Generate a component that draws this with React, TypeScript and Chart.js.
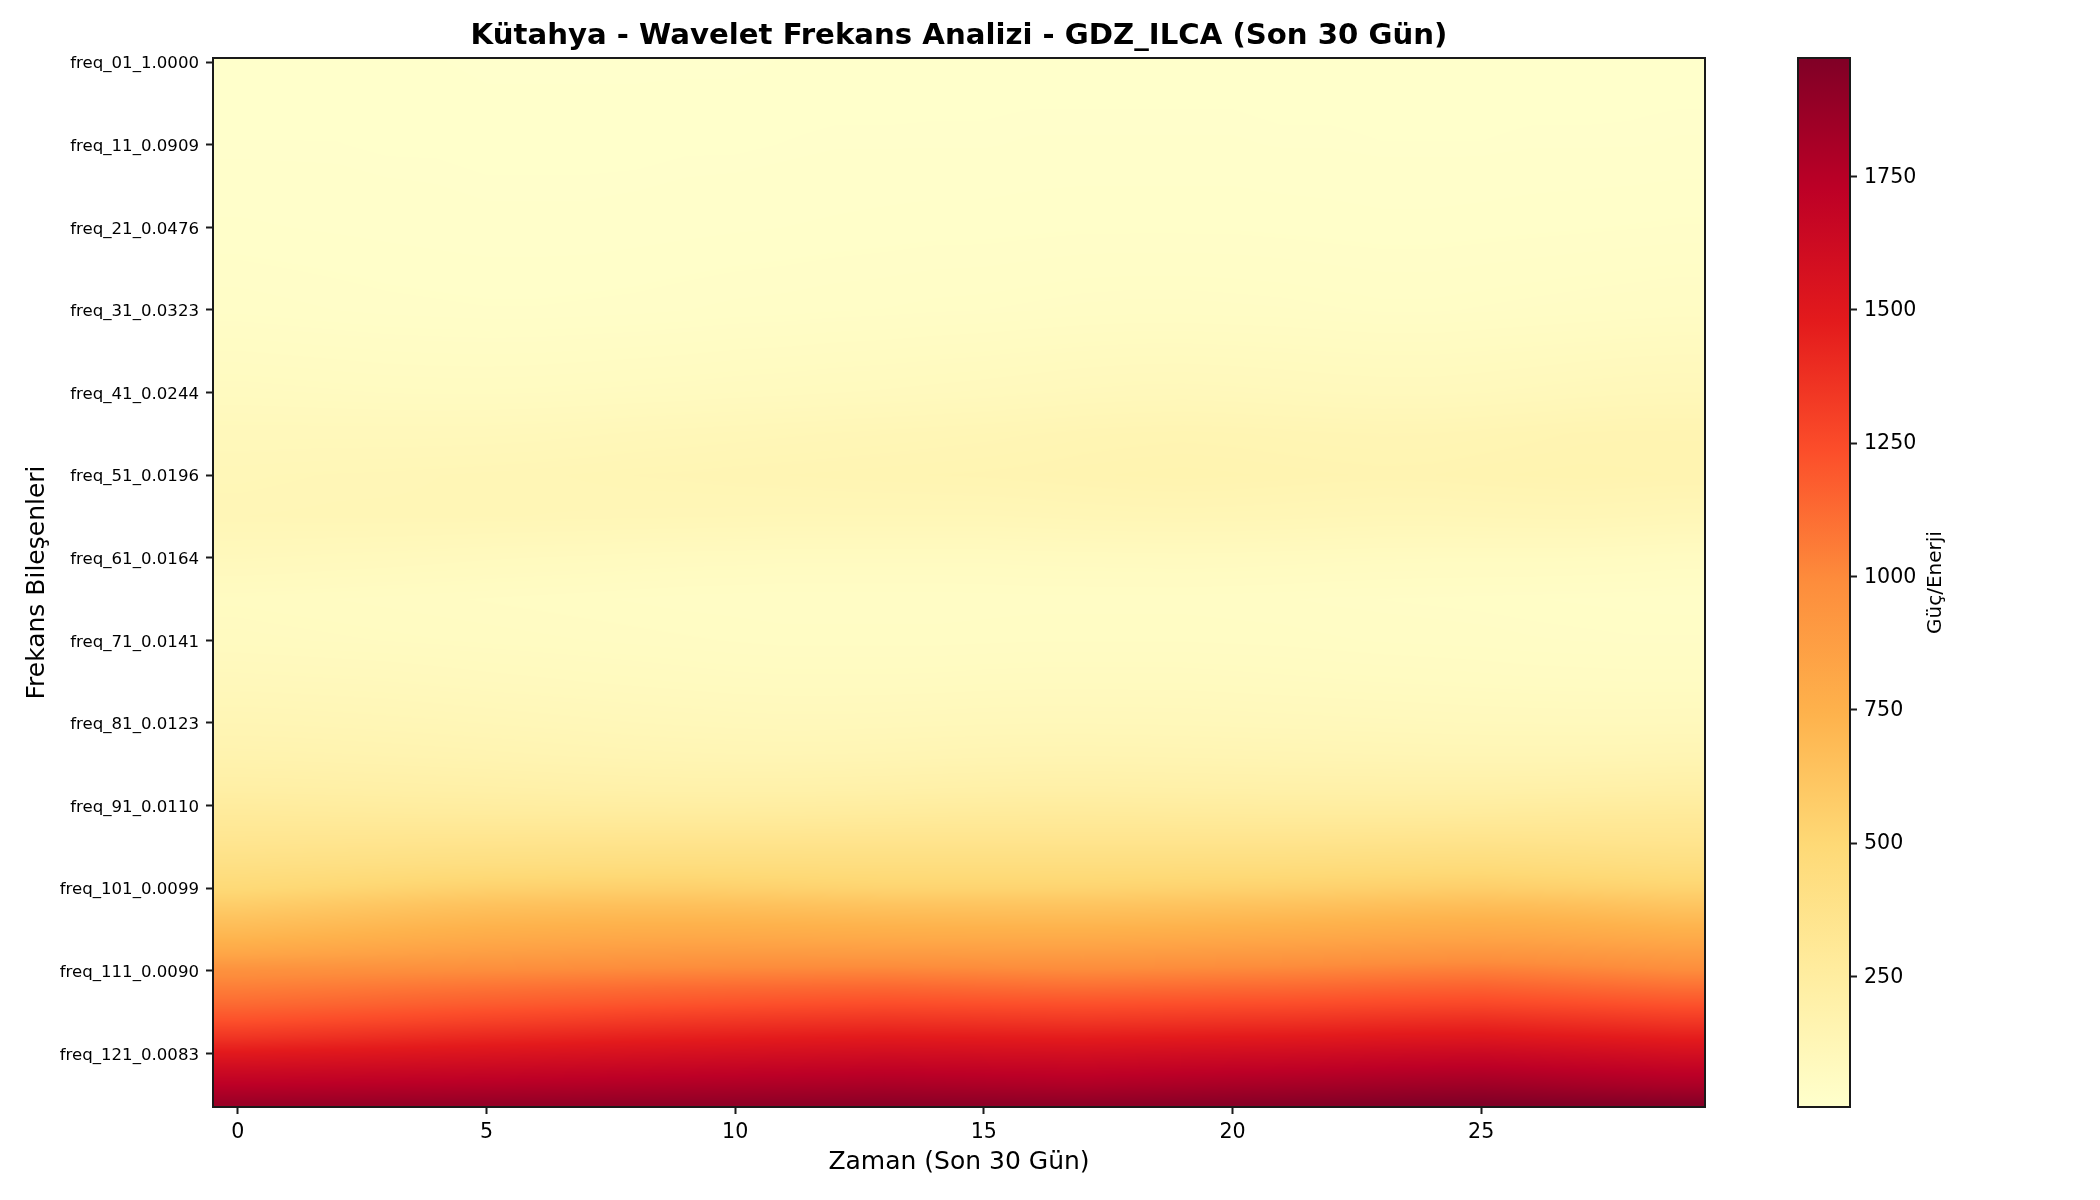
import { useEffect, useRef } from "react";
import { Chart, registerables } from "chart.js";

Chart.register(...registerables);

const FONT = "'DejaVu Sans'";
const INK = "#1a1a1a";

const chartTitle = "Kütahya - Wavelet Frekans Analizi - GDZ_ILCA (Son 30 Gün)";
const xTitle = "Zaman (Son 30 Gün)";
const yTitle = "Frekans Bileşenleri";
const barTitle = "Güç/Enerji";

const dayCount = 30;
const rowCount = 127;
const xTicks = [0, 5, 10, 15, 20, 25];
const yTicks = [0, 10, 20, 30, 40, 50, 60, 70, 80, 90, 100, 110, 120];
const yTickLabels = [
  "freq_01_1.0000", "freq_11_0.0909", "freq_21_0.0476", "freq_31_0.0323", "freq_41_0.0244",
  "freq_51_0.0196", "freq_61_0.0164", "freq_71_0.0141", "freq_81_0.0123", "freq_91_0.0110",
  "freq_101_0.0099", "freq_111_0.0090", "freq_121_0.0083",
];
const barTicks = [250, 500, 750, 1000, 1250, 1500, 1750];
const powerMin = 5;
const powerMax = 1972;

// YlOrRd
const colormap = ["#ffffcc", "#ffeda0", "#fed976", "#feb24c", "#fd8d3c", "#fc4e2a", "#e31a1c", "#bd0026", "#800026"];

// rows, one list of 30 days per row index in sampledRows
const sampledRows = [0, 10, 20, 30, 40, 45, 50, 55, 60, 65, 70, 75, 80, 84, 88, 91, 94, 97, 100, 102, 104, 106, 108, 110, 112, 114, 116, 118, 120, 122, 124, 126];
const power = [
  [9, 9, 8, 8, 8, 7, 7, 7, 7, 7, 7, 8, 8, 8, 9, 9, 9, 9, 9, 9, 9, 8, 8, 8, 8, 8, 8, 8, 9, 9],
  [12, 12, 12, 11, 11, 10, 10, 10, 10, 11, 11, 12, 13, 13, 13, 13, 14, 14, 14, 14, 14, 13, 13, 12, 12, 12, 13, 13, 13, 14],
  [20, 19, 18, 17, 16, 15, 15, 15, 16, 17, 18, 19, 20, 21, 22, 22, 23, 24, 24, 24, 24, 23, 22, 21, 21, 22, 23, 24, 25, 26],
  [34, 32, 30, 28, 27, 26, 26, 27, 28, 30, 32, 33, 35, 36, 38, 39, 41, 43, 44, 44, 43, 42, 40, 38, 38, 40, 42, 44, 46, 48],
  [72, 70, 68, 66, 65, 65, 66, 68, 70, 72, 75, 77, 80, 82, 85, 88, 92, 96, 99, 100, 98, 95, 92, 90, 90, 93, 97, 102, 106, 108],
  [100, 100, 100, 100, 100, 101, 103, 106, 110, 113, 116, 119, 122, 125, 128, 131, 135, 140, 143, 145, 143, 140, 137, 135, 136, 140, 145, 150, 152, 152],
  [118, 120, 122, 123, 125, 127, 129, 132, 135, 137, 140, 142, 144, 146, 148, 150, 153, 157, 160, 162, 160, 157, 154, 152, 153, 157, 160, 162, 160, 158],
  [125, 126, 127, 127, 127, 126, 125, 124, 123, 122, 121, 120, 120, 120, 120, 120, 122, 125, 127, 128, 127, 125, 122, 120, 120, 122, 124, 125, 122, 118],
  [95, 93, 90, 88, 85, 82, 80, 78, 75, 73, 72, 70, 70, 70, 70, 70, 72, 73, 74, 75, 74, 72, 70, 68, 67, 67, 67, 66, 64, 60],
  [62, 60, 58, 56, 54, 52, 50, 48, 46, 44, 43, 42, 42, 42, 42, 43, 44, 44, 44, 44, 43, 42, 40, 39, 38, 37, 36, 35, 34, 33],
  [72, 70, 68, 66, 64, 62, 60, 58, 56, 54, 52, 50, 50, 50, 50, 51, 52, 52, 52, 52, 51, 50, 48, 46, 45, 44, 42, 41, 40, 40],
  [100, 98, 96, 94, 90, 86, 83, 80, 77, 74, 71, 70, 70, 70, 71, 73, 74, 74, 74, 74, 72, 70, 68, 66, 64, 62, 60, 59, 58, 58],
  [135, 133, 130, 127, 124, 120, 116, 112, 108, 105, 102, 100, 100, 102, 104, 106, 107, 107, 106, 105, 103, 101, 99, 97, 95, 93, 92, 91, 91, 92],
  [170, 168, 165, 162, 158, 154, 150, 146, 142, 139, 137, 136, 137, 139, 142, 145, 147, 148, 147, 145, 143, 141, 139, 137, 135, 134, 134, 135, 137, 140],
  [222, 220, 217, 214, 211, 208, 204, 200, 197, 195, 194, 195, 197, 200, 204, 207, 209, 209, 207, 205, 203, 201, 200, 199, 199, 200, 202, 205, 208, 212],
  [280, 277, 274, 271, 268, 266, 264, 262, 261, 260, 260, 262, 265, 268, 272, 275, 277, 277, 275, 272, 270, 268, 266, 266, 267, 270, 274, 278, 280, 282],
  [335, 338, 340, 342, 344, 346, 347, 348, 349, 350, 350, 350, 351, 352, 352, 352, 351, 350, 350, 350, 350, 350, 352, 355, 358, 360, 356, 352, 348, 345],
  [405, 410, 415, 420, 426, 430, 433, 436, 438, 440, 439, 438, 436, 435, 435, 435, 435, 435, 436, 437, 438, 440, 444, 448, 452, 455, 448, 441, 433, 425],
  [490, 500, 512, 524, 536, 545, 549, 552, 554, 555, 549, 543, 536, 530, 529, 529, 529, 530, 534, 538, 542, 545, 550, 556, 561, 565, 557, 548, 539, 530],
  [570, 585, 600, 615, 630, 640, 645, 648, 650, 650, 647, 642, 636, 630, 628, 626, 625, 625, 628, 632, 636, 640, 646, 654, 661, 665, 660, 648, 634, 620],
  [650, 663, 676, 690, 704, 715, 721, 726, 729, 730, 728, 724, 719, 715, 711, 708, 706, 705, 708, 713, 719, 725, 732, 740, 746, 750, 745, 733, 719, 705],
  [725, 738, 751, 764, 778, 790, 797, 803, 808, 810, 808, 804, 799, 795, 793, 791, 790, 790, 794, 799, 805, 810, 817, 825, 831, 835, 829, 816, 803, 790],
  [825, 836, 847, 858, 870, 880, 887, 894, 901, 905, 905, 904, 902, 900, 897, 894, 891, 890, 894, 900, 905, 910, 918, 927, 935, 940, 932, 918, 904, 890],
  [965, 970, 975, 980, 985, 990, 995, 1001, 1006, 1010, 1013, 1016, 1018, 1020, 1015, 1010, 1004, 1000, 1004, 1010, 1015, 1020, 1028, 1037, 1045, 1050, 1040, 1025, 1010, 995],
  [1045, 1053, 1062, 1072, 1082, 1090, 1098, 1106, 1114, 1120, 1124, 1128, 1132, 1135, 1129, 1122, 1115, 1110, 1115, 1121, 1126, 1130, 1138, 1148, 1155, 1160, 1147, 1132, 1118, 1105],
  [1125, 1135, 1146, 1158, 1170, 1180, 1189, 1198, 1208, 1215, 1222, 1229, 1235, 1240, 1236, 1232, 1228, 1225, 1229, 1233, 1237, 1240, 1247, 1255, 1261, 1265, 1253, 1240, 1227, 1215],
  [1225, 1237, 1250, 1263, 1277, 1290, 1301, 1313, 1325, 1335, 1342, 1349, 1355, 1360, 1355, 1350, 1345, 1340, 1345, 1351, 1356, 1360, 1368, 1378, 1385, 1390, 1377, 1363, 1349, 1335],
  [1350, 1362, 1375, 1389, 1403, 1415, 1425, 1436, 1447, 1455, 1462, 1469, 1475, 1480, 1476, 1472, 1468, 1465, 1470, 1476, 1481, 1485, 1492, 1501, 1506, 1510, 1498, 1486, 1473, 1460],
  [1495, 1504, 1513, 1522, 1532, 1540, 1549, 1558, 1567, 1575, 1581, 1588, 1594, 1600, 1596, 1592, 1588, 1585, 1592, 1599, 1605, 1610, 1618, 1628, 1635, 1640, 1627, 1613, 1599, 1585],
  [1625, 1630, 1636, 1642, 1649, 1655, 1662, 1670, 1678, 1685, 1692, 1698, 1704, 1710, 1705, 1700, 1695, 1690, 1698, 1706, 1714, 1720, 1728, 1738, 1745, 1750, 1738, 1725, 1712, 1700],
  [1740, 1745, 1750, 1755, 1760, 1765, 1771, 1777, 1784, 1790, 1795, 1800, 1805, 1810, 1805, 1800, 1795, 1790, 1799, 1808, 1817, 1825, 1833, 1843, 1850, 1855, 1843, 1830, 1817, 1805],
  [1860, 1864, 1868, 1872, 1876, 1880, 1884, 1888, 1892, 1895, 1900, 1905, 1910, 1915, 1912, 1910, 1907, 1905, 1912, 1920, 1928, 1935, 1943, 1952, 1960, 1965, 1958, 1952, 1946, 1940],
];

const colormapRgb = colormap.map(c => [1, 3, 5].map(i => parseInt(c.slice(i, i + 2), 16)));

function powerColor(v: number) {
  const t = Math.min(1, Math.max(0, (v - powerMin) / (powerMax - powerMin))) * (colormapRgb.length - 1);
  const i = Math.min(colormapRgb.length - 2, Math.floor(t));
  const f = t - i;
  return colormapRgb[i].map((c, k) => c + (colormapRgb[i + 1][k] - c) * f);
}

// like imshow with bilinear interpolation, the cell values are smoothed when painted
function samplePower(day: number, row: number) {
  const d = Math.min(dayCount - 1, Math.max(0, day));
  const r = Math.min(sampledRows[sampledRows.length - 1], Math.max(0, row));
  let hi = 1;
  while (hi < sampledRows.length - 1 && sampledRows[hi] < r) hi++;
  const lo = hi - 1;
  const fr = (r - sampledRows[lo]) / (sampledRows[hi] - sampledRows[lo]);
  const d0 = Math.min(dayCount - 2, Math.floor(d));
  const fd = d - d0;
  const a = power[lo][d0] + (power[lo][d0 + 1] - power[lo][d0]) * fd;
  const b = power[hi][d0] + (power[hi][d0 + 1] - power[hi][d0]) * fd;
  return a + (b - a) * fr;
}

const heatmapPlugin = {
  id: "heatmap",
  // title goes over the axes, not over the canvas
  afterLayout(chart: any) {
    chart.titleBlock.left = chart.chartArea.left;
    chart.titleBlock.right = chart.chartArea.right;
  },
  beforeDraw(chart: any) {
    // matplotlib sits these labels a little lower than textBaseline middle
    chart.scales.y.getLabelItems().forEach((item: any) => { item.options.translation[1] += 2; });
  },
  beforeDatasetsDraw(chart: any) {
    const { ctx, chartArea, scales } = chart;
    const w = Math.round(chartArea.width);
    const h = Math.round(chartArea.height);
    const img = ctx.createImageData(w, h);
    for (let py = 0; py < h; py++) {
      const row = scales.y.getValueForPixel(chartArea.top + py + 0.5);
      for (let px = 0; px < w; px++) {
        const day = scales.x.getValueForPixel(chartArea.left + px + 0.5);
        const rgb = powerColor(samplePower(day, row));
        const o = (py * w + px) * 4;
        img.data[o] = rgb[0];
        img.data[o + 1] = rgb[1];
        img.data[o + 2] = rgb[2];
        img.data[o + 3] = 255;
      }
    }
    ctx.putImageData(img, Math.round(chartArea.left), Math.round(chartArea.top));
  },
};

const framePlugin = {
  id: "frame",
  afterDraw(chart: any) {
    const { ctx, chartArea: a } = chart;
    ctx.save();
    ctx.strokeStyle = INK;
    ctx.lineWidth = 2;
    ctx.strokeRect(a.left, a.top, a.width, a.height);
    ctx.restore();
  },
};

// colorbar label reads bottom to top, Chart.js would turn it the other way on a right axis
const barLabelPlugin = {
  id: "barLabel",
  beforeDraw(chart: any) {
    chart.scales.y.getLabelItems().forEach((item: any) => { item.options.translation[1] += 1; });
  },
  afterDraw(chart: any) {
    const { ctx, chartArea: a } = chart;
    ctx.save();
    ctx.translate(146, (a.top + a.bottom) / 2);
    ctx.rotate(-Math.PI / 2);
    ctx.font = `20px ${FONT}`;
    ctx.fillStyle = "#000";
    ctx.textAlign = "center";
    ctx.textBaseline = "middle";
    ctx.fillText(barTitle, 0, 0);
    ctx.restore();
  },
};

const axisGrid = { drawOnChartArea: false, drawTicks: true, tickLength: 7, tickWidth: 2, tickColor: INK };

export default function App() {
  const mainRef = useRef<HTMLCanvasElement>(null);
  const barRef = useRef<HTMLCanvasElement>(null);

  useEffect(() => {
    if (!mainRef.current || !barRef.current) return;

    const main = new Chart(mainRef.current, {
      type: "scatter",
      data: {
        datasets: [{
          label: "Güç/Enerji",
          data: sampledRows.flatMap((r, i) => power[i].map((v, d) => ({ x: d, y: r, v }))),
          pointRadius: 0,
        }],
      },
      options: {
        responsive: false,
        animation: false,
        devicePixelRatio: 1,
        layout: { padding: { right: 213 } },
        plugins: {
          legend: { display: false },
          tooltip: { enabled: false },
          title: {
            display: true,
            text: chartTitle,
            color: "#000",
            font: { family: FONT, size: 29.2, weight: "bold" },
            padding: { top: 18.5, bottom: 4.46 },
          },
        },
        scales: {
          x: {
            type: "linear",
            min: -0.5,
            max: dayCount - 0.5,
            grid: axisGrid,
            border: { color: INK, width: 2 },
            afterBuildTicks: (s: any) => { s.ticks = xTicks.map(value => ({ value })); },
            afterFit: (s: any) => { s.height = 93; },
            ticks: { color: "#000", font: { family: FONT, size: 20.6 }, padding: 6, autoSkip: false, maxRotation: 0 },
            title: { display: true, text: xTitle, color: "#000", font: { family: FONT, size: 25 }, padding: { top: 0, bottom: 23 } },
          },
          y: {
            type: "linear",
            reverse: true,
            min: -0.5,
            max: rowCount - 0.5,
            grid: axisGrid,
            border: { color: INK, width: 2 },
            afterBuildTicks: (s: any) => { s.ticks = yTicks.map(value => ({ value })); },
            afterFit: (s: any) => { s.width = 213; },
            ticks: {
              color: "#000",
              font: { family: FONT, size: 16.6 },
              padding: 7,
              autoSkip: false,
              callback: (v: any) => yTickLabels[yTicks.indexOf(Number(v))],
            },
            title: { display: true, text: yTitle, color: "#000", font: { family: FONT, size: 25 }, padding: { top: 22, bottom: 0 } },
          },
        },
      } as any,
      plugins: [heatmapPlugin, framePlugin],
    });

    const bar = new Chart(barRef.current, {
      type: "bar",
      data: {
        labels: [""],
        datasets: [{
          data: [[powerMin, powerMax]] as any,
          barPercentage: 1,
          categoryPercentage: 1,
          backgroundColor: (c: any) => {
            const area = c.chart.chartArea;
            if (!area) return colormap[0];
            const g = c.chart.ctx.createLinearGradient(0, area.bottom, 0, area.top);
            colormap.forEach((col, i) => g.addColorStop(i / (colormap.length - 1), col));
            return g;
          },
        }],
      },
      options: {
        responsive: false,
        animation: false,
        devicePixelRatio: 1,
        layout: { padding: { left: 8, top: 58, bottom: 93 } },
        plugins: { legend: { display: false }, tooltip: { enabled: false } },
        scales: {
          x: { display: false },
          y: {
            position: "right",
            min: powerMin,
            max: powerMax,
            grid: axisGrid,
            border: { color: INK, width: 2 },
            afterBuildTicks: (s: any) => { s.ticks = barTicks.map(value => ({ value })); },
            afterFit: (s: any) => { s.width = 250; },
            ticks: { color: "#000", font: { family: FONT, size: 20.6 }, padding: 7, autoSkip: false, callback: (v: any) => String(v) },
          },
        },
      } as any,
      plugins: [framePlugin, barLabelPlugin],
    });

    return () => {
      main.destroy();
      bar.destroy();
    };
  }, []);

  return (
    <div style={{ position: "fixed", left: 0, top: 0, width: 2100, height: 1200, background: "#fff", overflow: "hidden" }}>
      <canvas ref={mainRef} width={1918} height={1200} style={{ position: "absolute", left: 0, top: 0 }} />
      <canvas ref={barRef} width={310} height={1200} style={{ position: "absolute", left: 1790, top: 0 }} />
    </div>
  );
}
